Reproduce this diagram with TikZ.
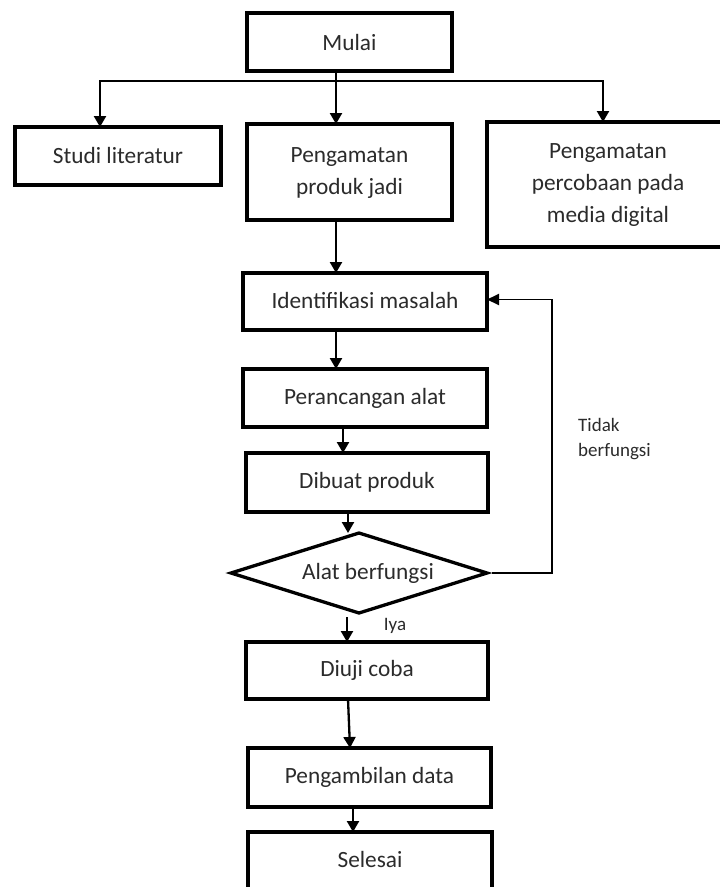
\documentclass[tikz,border=0pt]{standalone}
\usepackage{fontspec}
\setmainfont{Carlito}
\usetikzlibrary{arrows.meta,shapes.geometric}
\definecolor{txt}{HTML}{2B2B2B}
\newcommand{\lines}[2]{\raisebox{#1}{\fontsize{23.3}{32}\selectfont\begin{tabular}{@{}c@{}}#2\end{tabular}}}
\tikzset{
  box/.style={draw=black, line width=3.3pt, rectangle, inner sep=0pt, outer sep=0pt,
    text=txt, align=center, font=\fontsize{23.3}{33}\selectfont},
  decision/.style={draw=black, line width=3.3pt, diamond, aspect=3.2, inner sep=0pt, outer sep=0pt,
    text=txt, font=\fontsize{23.3}{33}\selectfont},
  arr/.style={draw=black, line width=2.3pt, -{Triangle[width=12pt,length=11pt]}},
  fbline/.style={draw=black, line width=1.9pt, -{Triangle[width=11pt,length=12pt]}},
  lbl/.style={text=txt, font=\fontsize{19}{25}\selectfont, inner sep=0pt, align=left}
}
\begin{document}
\begin{tikzpicture}[x=1pt,y=-1pt]
\useasboundingbox (0,0) rectangle (720,887);
\clip (0,0) rectangle (720,887);
\fill[white] (0,0) rectangle (720,887);

% nodes
\node[box, minimum width=205pt, minimum height=58pt] (mulai) at (349.5,42) {Mulai};
\node[box, minimum width=206pt, minimum height=58pt] (studi) at (118,156) {\raisebox{2pt}{Studi literatur}};
\node[box, minimum width=205pt, minimum height=96pt] (prodjadi) at (349.5,172) {\lines{10pt}{Pengamatan\\produk jadi}};
\node[box, minimum width=242pt, minimum height=125pt] (media) at (608,184.5) {\lines{6pt}{Pengamatan\\percobaan pada\\media digital}};
\node[box, minimum width=244pt, minimum height=57pt] (ident) at (365,301.5) {\raisebox{3pt}{Identifikasi masalah}};
\node[box, minimum width=244pt, minimum height=58pt] (peranc) at (365,398) {\raisebox{2pt}{Perancangan alat}};
\node[box, minimum width=242pt, minimum height=59pt] (dibuat) at (367,482.5) {\raisebox{3pt}{Dibuat produk}};
\node[decision, minimum width=256pt, minimum height=80pt] (dia) at (359,573) {\hspace*{18pt}Alat berfungsi};
\node[box, minimum width=242pt, minimum height=57pt] (diuji) at (367,670.5) {\raisebox{3pt}{Diuji coba}};
\node[box, minimum width=243pt, minimum height=59pt] (ambil) at (369.5,777.5) {\raisebox{3pt}{Pengambilan data}};
\node[box, minimum width=244pt, minimum height=58pt] (selesai) at (370,861) {\raisebox{3pt}{Selesai}};

% labels
\node[lbl, anchor=west] (tidak) at (578,439) {Tidak\\berfungsi};
\node[lbl] (iya) at (395,626) {Iya};

% helper coordinates
\coordinate (hl) at (0,81);
\coordinate (cL) at (100,0);
\coordinate (cM) at (336,0);
\coordinate (cR) at (603,0);
\coordinate (c2) at (343,0);
\coordinate (c3) at (348,0);
\coordinate (c4) at (347,0);
\coordinate (c5) at (348,0);
\coordinate (c6) at (350,0);
\coordinate (c7) at (353,0);
\coordinate (fb) at (552,0);

% connectors
\draw[arr] (mulai.south -| cM) -- (prodjadi.north -| cM);
\draw[arr] (hl -| cM) -| (studi.north -| cL);
\draw[arr] (hl -| cM) -| (media.north -| cR);
\draw[arr] (prodjadi.south -| cM) -- (ident.north -| cM);
\draw[arr] (ident.south -| cM) -- (peranc.north -| cM);
\draw[arr] (peranc.south -| c2) -- (dibuat.north -| c2);
\draw[arr] (dibuat.south -| c3) -- (dia.north -| c3);
\draw[arr, shorten <=4pt] (dia.south -| c4) -- (diuji.north -| c4);
\draw[arr] (diuji.south -| c5) -- (ambil.north -| c6);
\draw[arr] (ambil.south -| c7) -- (selesai.north -| c7);
\draw[fbline] ([xshift=5pt]dia.east) -- (dia.east -| fb) -- ([yshift=2pt]ident.east -| fb) -- ([yshift=2pt]ident.east);
\end{tikzpicture}
\end{document}
